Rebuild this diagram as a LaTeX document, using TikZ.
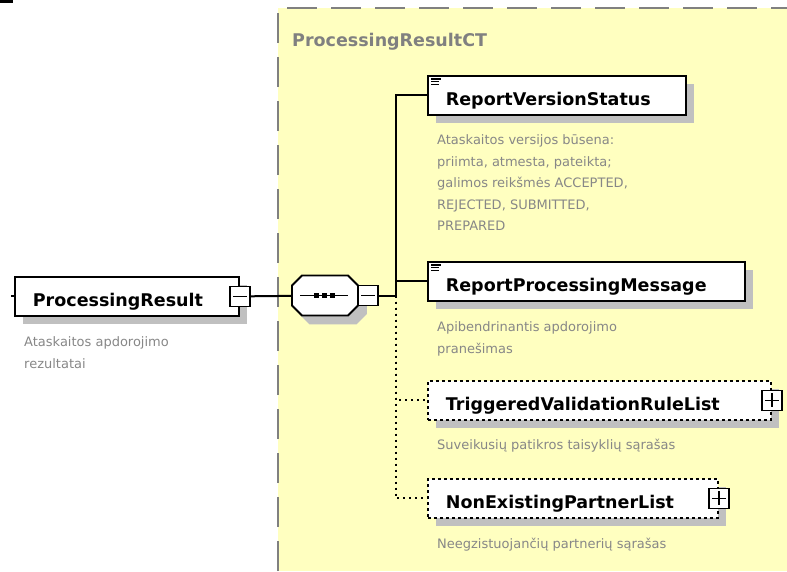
\documentclass[tikz,border=0pt]{standalone}
\usepackage{fontspec}
\setmainfont{DejaVu Sans}
\usetikzlibrary{calc, positioning, shadows}
\definecolor{SchemaYellow}{RGB}{255, 255, 192}
\definecolor{FrameGrey}{RGB}{128, 128, 128}
\definecolor{NoteGrey}{RGB}{135, 135, 135}
\definecolor{ShadowGrey}{RGB}{192, 192, 192}

\tikzset{
  elembox/.style={draw, fill=white, line width=1.8pt, anchor=north west,
    minimum height=39pt, text width=#1, inner xsep=18pt, inner ysep=0pt,
    text height=20pt, text depth=0pt,
    font=\bfseries\fontsize{17.5}{20}\selectfont,
    drop shadow={shadow xshift=8pt, shadow yshift=-8pt, fill=ShadowGrey, opacity=1}},
  optbox/.style={elembox=#1, dash pattern=on 3pt off 3pt},
  togglebox/.style={draw, fill=white, line width=1.6pt, minimum size=20pt, inner sep=0pt},
  minusbox/.style={togglebox, path picture={
    \draw[line width=1.8pt] ([xshift=3pt]path picture bounding box.west) -- ([xshift=-3pt]path picture bounding box.east);}},
  plusbox/.style={togglebox, path picture={
    \draw[line width=1.8pt] ([xshift=3pt]path picture bounding box.west) -- ([xshift=-3pt]path picture bounding box.east);
    \draw[line width=1.8pt] ([yshift=-3pt]path picture bounding box.north) -- ([yshift=3pt]path picture bounding box.south);}},
  note/.style={anchor=north west, inner sep=0pt, align=left, text=NoteGrey,
    font=\fontsize{13}{21.5}\selectfont},
  link/.style={line width=2pt},
  optlink/.style={link, dash pattern=on 2pt off 4pt},
}

\begin{document}
\begin{tikzpicture}[x=1pt, y=-1pt]
    \useasboundingbox (0,0) rectangle (787,571);
    \fill (0,0) rectangle (13,2.5);

    % complex type frame
    \fill[SchemaYellow] (278,8) rectangle (787,571);
    \draw[FrameGrey, line width=2.5pt, dash pattern=on 30pt off 14pt] (278,571) -- (278,8) -- (787,8);
    \node[anchor=base west, inner sep=0pt, text=FrameGrey, font=\bfseries\fontsize{17.5}{20}\selectfont] (ct) at (292,46.5) {ProcessingResultCT};

    % root element
    \node[elembox=188pt] (pr) at (14,276) {ProcessingResult};
    \node[minusbox] (prtog) at (pr.east) {};
    \draw[link] (pr.west) -- ++(-3,0);
    \node[note, below right=20pt and 10pt of pr.south west] (prnote) {Ataskaitos apdorojimo\\rezultatai};

    % sequence
    \foreach \s/\f/\d in {8/ShadowGrey/ShadowGrey, 0/white/black}
        \filldraw[fill=\f, draw=\d, line width=1.8pt, shift={(\s,\s)}] (302,275.5) -- (348,275.5) -- (358,285.5) -- (358,305.5)
            -- (348,315.5) -- (302,315.5) -- (292,305.5) -- (292,285.5) -- cycle;
    \node[minimum width=66pt, minimum height=40pt, inner sep=0pt] (seq) at (325,295.5) {};
    \draw[line width=1.6pt] ($(seq.center)+(-25,0)$) -- ($(seq.center)+(23,0)$);
    \foreach \dx in {-9,-1,7}
        \fill ($(seq.center)+(\dx-2.5,-2.5)$) rectangle +(5,5);
    \node[minusbox, right=-0.9pt of seq] (seqtog) {};
    \coordinate (jn) at ($(seqtog.east)+(17,0)$);

    % children
    \node[elembox=222pt] (rvs) at (427,75) {ReportVersionStatus};
    \node[note, below right=19pt and 10pt of rvs.south west] (rvsnote) {Ataskaitos versijos būsena:\\priimta, atmesta, pateikta;\\galimos reikšmės ACCEPTED,\\REJECTED, SUBMITTED,\\PREPARED};
    \node[elembox=281pt] (rpm) at (427,261) {ReportProcessingMessage};
    \node[note, below right=20pt and 10pt of rpm.south west] (rpmnote) {Apibendrinantis apdorojimo\\pranešimas};
    \node[optbox=307pt] (tvrl) at (427,380) {TriggeredValidationRuleList};
    \node[plusbox] (tvrltog) at (tvrl.east) {};
    \node[note, below right=18pt and 10pt of tvrl.south west] (tvrlnote) {Suveikusių patikros taisyklių sąrašas};
    \node[optbox=254pt] (nepl) at (427,478) {NonExistingPartnerList};
    \node[plusbox] (nepltog) at (nepl.east) {};
    \node[note, below right=19pt and 10pt of nepl.south west] (neplnote) {Neegzistuojančių partnerių sąrašas};

    % simple type icons
    \foreach \n in {rvs,rpm}
        \foreach \k/\len in {0/10,1/8,2/8}
            \draw[line width=1.1pt] ($(\n.north west)+(4,4+2.6*\k)$) -- ++(\len,0);

    % connectors
    \draw[link] (prtog) -- (seq);
    \draw[link] (seqtog) -- (jn);
    \draw[link] (jn) |- (rvs.west);
    \draw[link] (jn) |- (rpm.west);
    \draw[optlink] (jn) |- (tvrl.west);
    \draw[optlink] (jn) |- (nepl.west);
\end{tikzpicture}
\end{document}
